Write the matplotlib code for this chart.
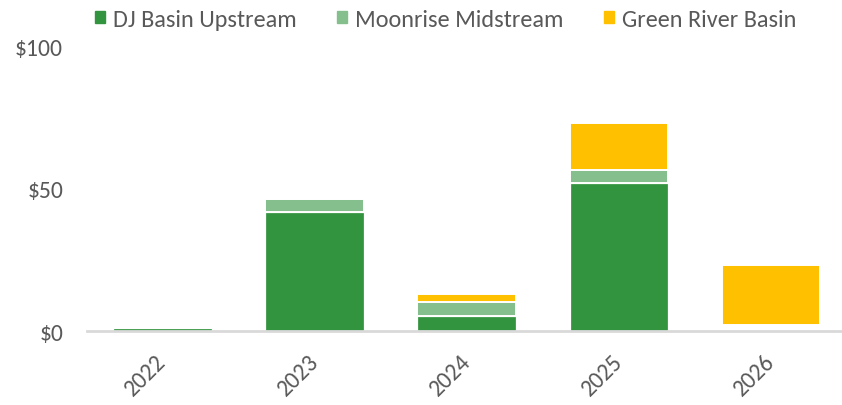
import matplotlib.pyplot as plt
from matplotlib.patches import Patch
import numpy as np

plt.rcParams['font.family'] = ['Carlito', 'Liberation Sans', 'DejaVu Sans']

years = ['2022', '2023', '2024', '2025', '2026']
dj_basin = [1.2, 41.7, 5.3, 52.1, 0.0]
moonrise = [0.0, 4.5, 4.9, 4.5, 0.0]
green_river = [0.0, 0.0, 2.8, 16.3, 21.1]
# unlabeled series with no fill that lifts the 2026 bar off the axis
hidden = [0.0, 0.0, 0.0, 0.0, 2.1]

c_dj = '#339440'
c_moon = '#85bf8d'
c_green = '#ffc000'
txt = '#595959'

fig = plt.figure(figsize=(8.42, 4.06), dpi=100)
ax = fig.add_axes([0.103, 0.182, 0.903, 0.702])

x = np.arange(len(years))
w = 0.65
dj = np.array(dj_basin)
mo = np.array(moonrise)
gr = np.array(green_river)
hd = np.array(hidden)

ax.bar(x, dj, w, color=c_dj, edgecolor='white', linewidth=0.9)
ax.bar(x, mo, w, bottom=dj, color=c_moon, edgecolor='white', linewidth=1.4)
ax.bar(x, hd, w, bottom=dj + mo, color='none', edgecolor='none')
ax.bar(x, gr, w, bottom=dj + mo + hd, color=c_green, edgecolor='white', linewidth=1.4)

ax.set_xlim(-0.5, 4.5)
ax.set_ylim(0, 100)
ax.set_yticks([0, 50, 100])
ax.set_yticklabels(['$0', '$50', '$100'], color=txt, fontsize=17)
ax.set_xticks(x)
ax.set_xticklabels(years, color=txt, fontsize=17, rotation=45,
                   ha='right', va='center', rotation_mode='anchor')
ax.tick_params(axis='both', length=0)
ax.tick_params(axis='y', pad=17)
ax.tick_params(axis='x', pad=19)

for s in ['left', 'right', 'top']:
    ax.spines[s].set_visible(False)
ax.spines['bottom'].set_color('#d9d9d9')
ax.spines['bottom'].set_linewidth(2)

handles = [Patch(color=c_dj), Patch(color=c_moon), Patch(color=c_green)]
fig.legend(handles, ['DJ Basin Upstream', 'Moonrise Midstream', 'Green River Basin'],
           loc='upper left', bbox_to_anchor=(0.087, 1.03), ncol=3, frameon=False,
           fontsize=17.5, labelcolor=txt, handlelength=0.42, handleheight=0.42,
           handletextpad=0.33, columnspacing=1.65)

fig.savefig('out.png', dpi=100)
